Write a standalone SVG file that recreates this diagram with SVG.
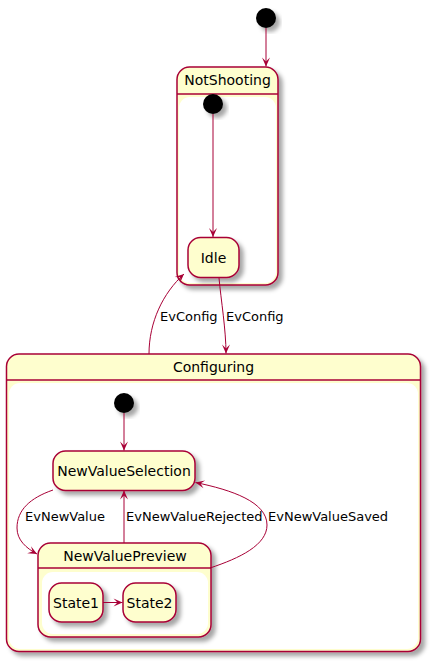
<svg xmlns="http://www.w3.org/2000/svg" width="431" height="662" viewBox="0 0 431 662">
<defs>
<filter id="sh" x="-20%" y="-20%" width="150%" height="150%">
<feDropShadow dx="4" dy="4" stdDeviation="2" flood-color="#000000" flood-opacity="0.35"/>
</filter>
<marker id="arr" viewBox="-10 -5 11 10" refX="0" refY="0" markerWidth="11" markerHeight="10" orient="auto" markerUnits="userSpaceOnUse">
<path d="M0,0 L-9,-4 L-5,0 L-9,4 Z" fill="#A80036"/>
</marker>
</defs>
<style>
.st{fill:#FEFECE;stroke:#A80036;stroke-width:1.5;filter:url(#sh)}
.in{fill:#FFFFFF;stroke:none}
.hl{stroke:#A80036;stroke-width:1.5}
.init{fill:#000000;filter:url(#sh)}
.e{fill:none;stroke:#A80036;stroke-width:1;marker-end:url(#arr)}
.n{font-family:"DejaVu Sans",sans-serif;font-size:14px;fill:#000000;text-anchor:middle}
.l{font-family:"DejaVu Sans",sans-serif;font-size:13px;fill:#000000}
</style>
<rect width="431" height="662" fill="#FFFFFF"/>

<g id="start_top"><circle class="init" cx="266" cy="18" r="10"/></g>

<g id="NotShooting">
<rect class="st" x="177" y="67" width="101" height="218" rx="12.5" ry="12.5"/>
<rect class="in" x="179" y="97" width="97" height="186" rx="11" ry="11"/>
<line class="hl" x1="177" y1="94" x2="278" y2="94"/>
<text class="n" x="227.5" y="85">NotShooting</text>
</g>
<g id="start_ns"><circle class="init" cx="213" cy="104" r="10"/></g>
<g id="Idle">
<rect class="st" x="188" y="237.5" width="51" height="40" rx="12.5" ry="12.5"/>
<text class="n" x="213.5" y="262.5">Idle</text>
</g>

<g id="Configuring">
<rect class="st" x="6.5" y="354" width="414" height="297.5" rx="12.5" ry="12.5"/>
<rect class="in" x="9" y="383" width="409" height="266" rx="11" ry="11"/>
<line class="hl" x1="6.5" y1="380" x2="420.5" y2="380"/>
<text class="n" x="213.5" y="371.5">Configuring</text>
</g>
<g id="start_cfg"><circle class="init" cx="124" cy="403" r="10"/></g>
<g id="NewValueSelection">
<rect class="st" x="53" y="451" width="142" height="39.5" rx="12.5" ry="12.5"/>
<text class="n" x="124" y="475.5">NewValueSelection</text>
</g>
<g id="NewValuePreview">
<rect class="st" x="38" y="543" width="173" height="94" rx="12.5" ry="12.5"/>
<rect class="in" x="42" y="572" width="166" height="62" rx="11" ry="11"/>
<line class="hl" x1="38" y1="568" x2="211" y2="568"/>
<text class="n" x="125" y="561">NewValuePreview</text>
</g>
<g id="State1">
<rect class="st" x="49" y="583" width="54" height="39" rx="12.5" ry="12.5"/>
<text class="n" x="76" y="607.5">State1</text>
</g>
<g id="State2">
<rect class="st" x="123" y="583" width="53" height="39" rx="12.5" ry="12.5"/>
<text class="n" x="149.5" y="607.5">State2</text>
</g>

<g id="connectors">
<path class="e" d="M266,28 L266,66.5"/>
<path class="e" d="M213,114 L213,237"/>
<path class="e" d="M219,278 C221,300 226,330 226,353.5"/>
<path class="e" d="M149,354 C149,322 163,293 184,274"/>
<path class="e" d="M124,413 L124,450.5"/>
<path class="e" d="M53,490 C30,498 17,510 17,528 C17,540 26,548 37,554"/>
<path class="e" d="M124,543 L124,490.5"/>
<path class="e" d="M210,568 C240,558 267,545 267,525 C267,502 232,490 195.5,482.5"/>
<path class="e" d="M103,602.5 L122.5,602.5"/>
<text class="l" x="160" y="320.5">EvConfig</text>
<text class="l" x="226" y="320.5">EvConfig</text>
<text class="l" x="25" y="521">EvNewValue</text>
<text class="l" x="126" y="521">EvNewValueRejected</text>
<text class="l" x="268" y="521">EvNewValueSaved</text>
</g>
</svg>
